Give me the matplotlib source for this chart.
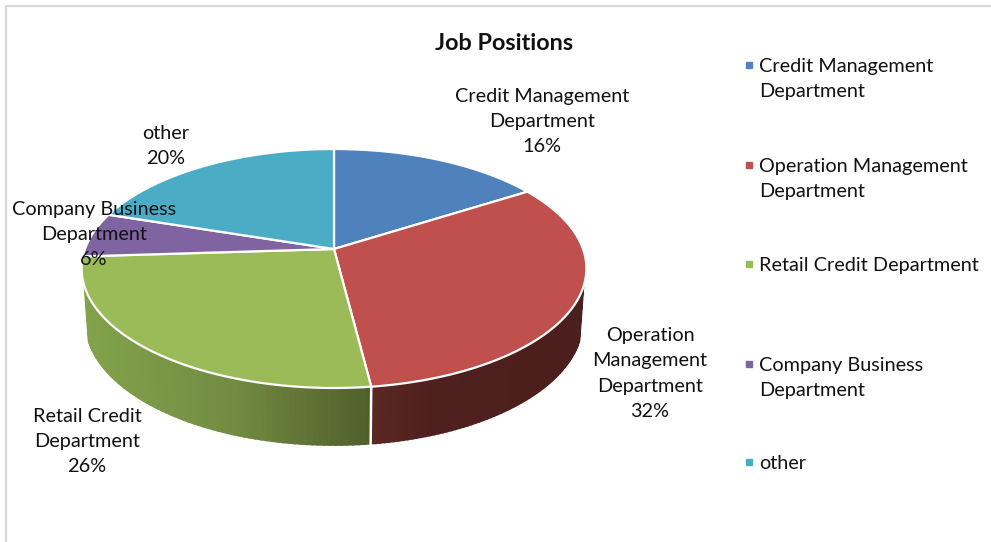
import numpy as np
import matplotlib
matplotlib.use("Agg")
import matplotlib.pyplot as plt
from matplotlib.path import Path
from matplotlib.transforms import Transform, Affine2D
from matplotlib.colors import to_rgb

plt.rcParams['font.family'] = ['Lato', 'DejaVu Sans']

title = "Job Positions"
categories = ["Credit Management Department", "Operation Management Department",
              "Retail Credit Department", "Company Business Department", "other"]
values = [16, 32, 26, 6, 20]
label_names = ["Credit Management\nDepartment", "Operation\nManagement\nDepartment",
               "Retail Credit\nDepartment", "Company Business\nDepartment", "other"]
legend_names = ["Credit Management\nDepartment", "Operation Management\nDepartment",
                "Retail Credit Department", "Company Business\nDepartment", "other"]
colors = ["#4F81BD", "#C0504D", "#9BBB59", "#8064A2", "#4BACC6"]

W, H = 991, 542
CX, CY = 334.0, 249.0
C, A, D = 0.1632, 116.3, 249.0
TXT = "#111111"
FS = 14.3
LS = 1.6


def tilt_xy(u, v):
    den = 1 + C * v
    return CX + D * u / den, CY - A * v / den


def bottom_xy(u, v):
    x, y = tilt_xy(u, v)
    return CX + (x - CX) * 248 / 252, 322 + (y - 268.5) * 123 / 119.5


class Tilt(Transform):
    input_dims = output_dims = 2
    is_affine = False
    has_inverse = False

    def transform_non_affine(self, xy):
        xy = np.asarray(xy, float)
        x, y = tilt_xy(xy[:, 0], xy[:, 1])
        return np.column_stack([x, y])

    def transform_path_non_affine(self, path):
        big = path.transformed(Affine2D().scale(3000))
        poly = big.to_polygons(closed_only=True)[0] / 3000
        return Path(self.transform_non_affine(poly), closed=True)


fig = plt.figure(figsize=(W / 100, H / 100), dpi=100, facecolor="white")
ax = fig.add_axes([0, 0, 1, 1])

wedges, _ = ax.pie(values, startangle=90, counterclock=False, colors=colors, radius=1,
                   frame=True,
                   wedgeprops=dict(edgecolor="white", linewidth=1.6, clip_on=False, zorder=3))
ax.set_aspect("auto")
ax.set_xlim(0, W)
ax.set_ylim(H, 0)
ax.axis("off")
tilt = Tilt()
for w in wedges:
    w.set_transform(tilt + ax.transData)

# side wall, shaded along x
edges = np.concatenate([[0], np.cumsum(values)]) / sum(values) * 360
wall_stops = {
    1: [(372, "#5C2824"), (430, "#4E201E"), (590, "#4B1F1D")],
    2: [(84, "#82A24B"), (230, "#728C42"), (371, "#4F5F2B")],
}
for idx, stops in wall_stops.items():
    t0, t1 = max(edges[idx], 108), min(edges[idx + 1], 252)
    th = np.radians(np.linspace(t0, t1, 70))
    u, v = np.sin(th), np.cos(th)
    xt, yt = tilt_xy(u, v)
    xb, yb = bottom_xy(u, v)
    sx = [s[0] for s in stops]
    cols = np.array([to_rgb(s[1]) for s in stops])
    for i in range(len(th) - 1):
        xm = (xt[i] + xt[i + 1]) / 2
        col = [np.interp(xm, sx, cols[:, k]) for k in range(3)]
        ax.fill([xt[i], xt[i + 1], xb[i + 1], xb[i]], [yt[i], yt[i + 1], yb[i + 1], yb[i]],
                facecolor=col, edgecolor=col, lw=1.3, zorder=1)

th = np.radians(edges[2])
xa, ya = tilt_xy(np.sin(th), np.cos(th))
xc, yc = bottom_xy(np.sin(th), np.cos(th))
ax.plot([xa, xc], [ya, yc + 1], color="white", lw=1.8, zorder=2)

# chart border
ax.plot([6, 6, W], [H, 5.5, 5.5], color="#D9D9D9", lw=1.6, zorder=0, clip_on=False)

ax.text(504, 43.5, title, ha="center", va="center", fontsize=16.9, fontweight="bold", color=TXT)

label_pos = [(542, 121.5), (650, 373.5), (87, 441.5), (94, 234.5), (166, 146)]
for name, val, (lx, ly) in zip(label_names, values, label_pos):
    ax.text(lx, ly, f"{name}\n{val}%", ha="center", va="center", multialignment="center",
            fontsize=FS, linespacing=LS, color=TXT, zorder=5)

legend_y = [65, 165, 264, 364, 462]
for name, col, ly in zip(legend_names, colors, legend_y):
    ax.plot([749], [ly], marker="s", ms=5, color=col, mec=col, ls="none", zorder=5)
    ax.text(759, ly - 7, name, ha="left", va="top", fontsize=FS, linespacing=LS, color=TXT, zorder=5)

fig.savefig("out.png", dpi=100, facecolor="white")
